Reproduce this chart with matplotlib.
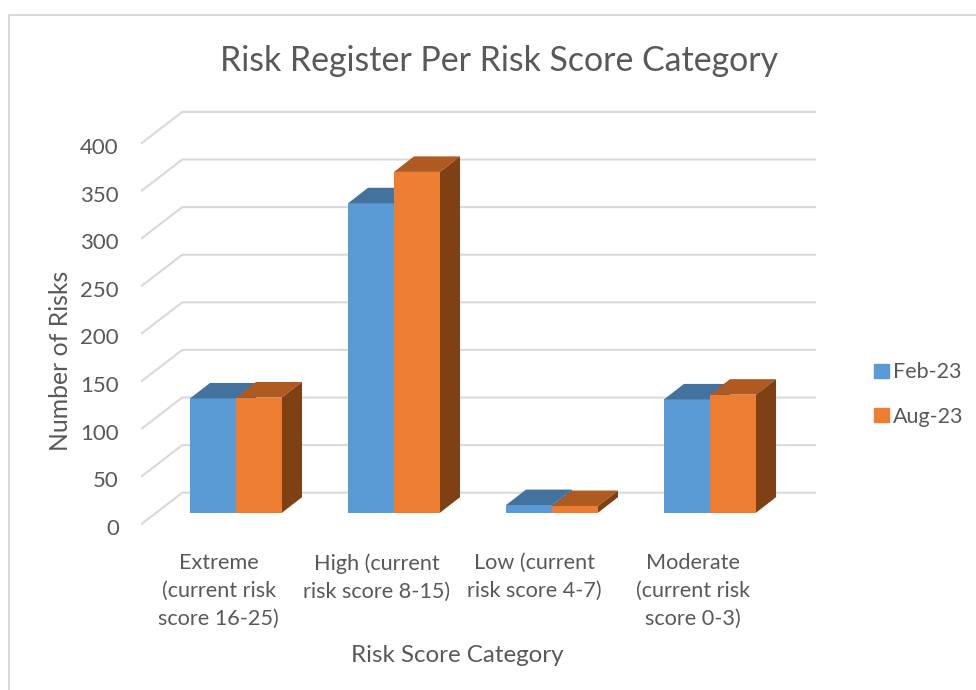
import matplotlib
matplotlib.use('Agg')
import matplotlib.pyplot as plt
from matplotlib.patches import Patch, Polygon

categories = ['Extreme\n(current risk\nscore 16-25)', 'High (current\nrisk score 8-15)',
              'Low (current\nrisk score 4-7)', 'Moderate\n(current risk\nscore 0-3)']
feb_23 = [120, 325, 8, 119]
aug_23 = [121, 358, 7, 124]
y_ticks = [0, 50, 100, 150, 200, 250, 300, 350, 400]

BLUE = ('#5b9bd5', '#43729e', '#3c6a94')
ORANGE = ('#ed7d31', '#ae5a21', '#7f4014')
TEXT = '#595959'
GRID = '#d9d9d9'

plt.rcParams['font.family'] = ['Lato', 'DejaVu Sans']

W, H = 976, 690
fig = plt.figure(figsize=(W / 100, H / 100), dpi=100)
ax = fig.add_axes([0, 0, 1, 1])

# one category is 158 px wide, 50 risks are 47.6 px tall
px_x = 158.0
px_y = 47.6 / 50
ax.set_xlim(-236 / px_x, (W - 236) / px_x)
ax.set_ylim((512.7 - H) / px_y, 512.7 / px_y)
ax.axis('off')

bar_w = 46 / px_x
depth_x = 20 / px_x
depth_y = 15.5 / px_y


def draw_series(values, offset, colours):
    front, roof, side = colours
    for i, v in enumerate(values):
        left = i + offset
        right = left + bar_w
        ax.bar(left, v, bar_w, align='edge', color=front, zorder=3)
        ax.add_patch(Polygon([(left, v), (right, v),
                              (right + depth_x, v + depth_y), (left + depth_x, v + depth_y)],
                             facecolor=roof, edgecolor='none', zorder=3))
        ax.add_patch(Polygon([(right, 0), (right + depth_x, depth_y),
                              (right + depth_x, v + depth_y), (right, v)],
                             facecolor=side, edgecolor='none', zorder=3))


# back wall lines with the slanted part on the side wall
wall_x = (-0.595, -0.34, 3.665)
for t in y_ticks:
    ax.plot(wall_x, [t - 11.5, t + 21, t + 21], color=GRID, lw=1.5, zorder=1,
            solid_joinstyle='miter')
    ax.text(-0.742, t - 17, str(t), ha='right', va='center', fontsize=16, color=TEXT)

draw_series(feb_23, -bar_w, BLUE)
draw_series(aug_23, 0, ORANGE)

for i, label in enumerate(categories):
    ax.text(i - 0.11, -42.5, label, ha='center', va='top', fontsize=15.6, color=TEXT,
            linespacing=1.5)

# outer chart frame
fig.add_artist(plt.Line2D([8.5 / W, 8.5 / W, 1], [0, 1 - 14.5 / H, 1 - 14.5 / H],
                          color=GRID, lw=1.4))

fig.text(499.5 / W, 1 - 61 / H, 'Risk Register Per Risk Score Category', ha='center', va='center',
         fontsize=24.4, color=TEXT)
fig.text(60 / W, 1 - 361 / H, 'Number of Risks', ha='center', va='center', rotation=90,
         fontsize=17.8, color=TEXT)
fig.text(457 / W, 1 - 655 / H, 'Risk Score Category', ha='center', va='center',
         fontsize=17.4, color=TEXT)

handles = [Patch(color=BLUE[0], label='Feb-23'), Patch(color=ORANGE[0], label='Aug-23')]
fig.legend(handles=handles, loc='center left', bbox_to_anchor=(874 / W, 1 - 394.5 / H),
           frameon=False, fontsize=15.5, labelcolor=TEXT, handlelength=0.68, handleheight=0.68,
           handletextpad=0.2, labelspacing=1.12, borderpad=0, borderaxespad=0)

fig.savefig('out.png', dpi=100)
